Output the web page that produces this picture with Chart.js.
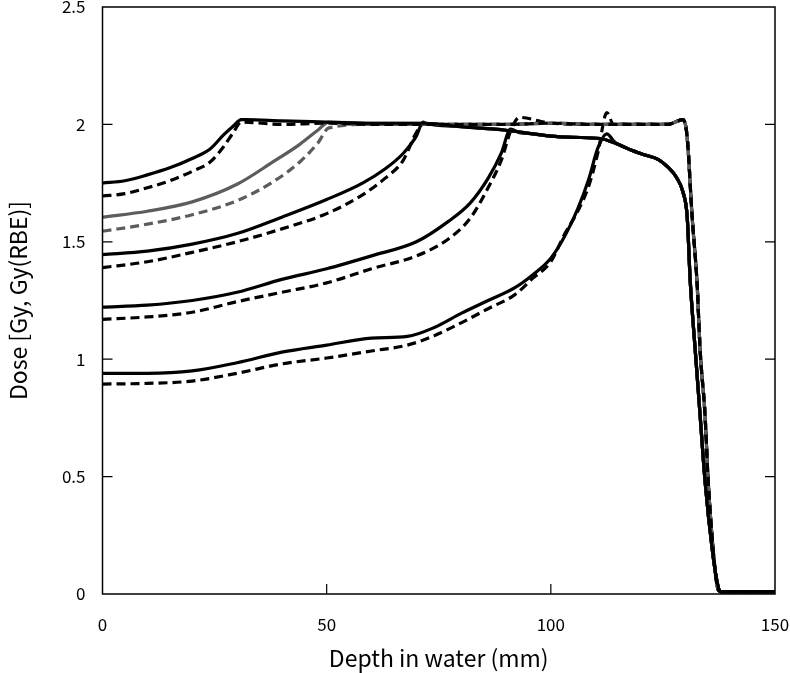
<!DOCTYPE html>
<html>
<head>
<meta charset="utf-8">
<script src="https://cdn.jsdelivr.net/npm/chart.js@4/dist/chart.umd.min.js"></script>
<style>
  body { margin: 0; background: #fff; }
  #c { display: block; }
</style>
</head>
<body>
<canvas id="c" width="790" height="673"></canvas>
<script>
// depth (mm) and dose, one set per SOBP width
const c1Depth  = [0, 5, 10, 15, 20, 24, 27, 29, 31];
const c1Solid  = [1.75, 1.76, 1.785, 1.815, 1.855, 1.895, 1.955, 1.99, 2.02];
const c1Dashed = [1.695, 1.705, 1.73, 1.76, 1.80, 1.84, 1.905, 1.96, 2.01];

const c2Depth  = [0, 10, 20, 30, 38, 44, 48, 50.5];
const c2Solid  = [1.605, 1.63, 1.67, 1.745, 1.84, 1.915, 1.975, 2.01];
const c2Dashed = [1.545, 1.575, 1.615, 1.675, 1.755, 1.84, 1.92, 1.985];

const c3Depth  = [0, 10, 20, 30, 40, 50, 58, 63, 67, 70, 71.5];
const c3Solid  = [1.445, 1.46, 1.49, 1.535, 1.605, 1.68, 1.75, 1.81, 1.875, 1.95, 2.01];
const c3Dashed = [1.39, 1.415, 1.455, 1.50, 1.555, 1.62, 1.70, 1.77, 1.845, 1.965, 2.0];

const c4Depth  = [0, 10, 20, 30, 40, 50, 60, 70, 77, 82, 86, 89, 91, 93];
const c4Solid  = [1.222, 1.23, 1.25, 1.285, 1.34, 1.385, 1.44, 1.50, 1.585, 1.665, 1.77, 1.88, 1.98, 1.965];
const c4Dashed = [1.17, 1.18, 1.20, 1.245, 1.285, 1.325, 1.385, 1.44, 1.51, 1.60, 1.73, 1.85, 1.97, 2.03];

const c5Depth  = [0, 10, 20, 30, 40, 50, 60, 68, 74, 80, 86, 92, 96, 100, 103, 106, 108.5, 110.5, 112.5, 114];
const c5Solid  = [0.94, 0.94, 0.95, 0.985, 1.03, 1.06, 1.09, 1.097, 1.135, 1.195, 1.25, 1.305, 1.36, 1.43, 1.52, 1.64, 1.77, 1.90, 1.96, 1.93];
const c5Dashed = [0.894, 0.897, 0.907, 0.94, 0.98, 1.005, 1.035, 1.06, 1.10, 1.155, 1.215, 1.275, 1.345, 1.415, 1.53, 1.63, 1.74, 1.88, 2.05, 2.0];

// shared plateau + distal fall-off
const solidTailDepth = [32, 40, 50, 60, 72, 80, 90, 96, 100, 105, 111, 115, 118, 121, 124, 126, 128, 129.5, 130.4, 131.1, 132.2, 133.3, 134.4, 136, 137.1, 137.8, 150];
const solidTailDose  = [2.02, 2.015, 2.01, 2.005, 2.005, 1.99, 1.975, 1.96, 1.95, 1.945, 1.94, 1.915, 1.89, 1.87, 1.85, 1.82, 1.775, 1.71, 1.61, 1.33, 1.04, 0.76, 0.48, 0.19, 0.05, 0.01, 0.01];
const dashTailDepth  = [31, 40, 50, 60, 70, 80, 90, 100, 110, 120, 126, 129.5, 130.2, 130.6, 131.5, 132.6, 133.3, 134.4, 135.1, 136.2, 137.3, 138, 150];
const dashTailDose   = [2.01, 2.0, 2.005, 2.0, 2.0, 2.0, 2.0, 2.005, 2.0, 2.0, 2.0, 2.02, 1.98, 1.9, 1.61, 1.33, 1.04, 0.76, 0.48, 0.19, 0.02, 0.01, 0.01];

const xTicks = [0, 50, 100, 150];
const yTicks = [0, 0.5, 1, 1.5, 2, 2.5];

function series(depth, dose, tailD, tailV) {
  const pts = depth.map((d, i) => ({ x: d, y: dose[i] }));
  const last = depth[depth.length - 1];
  tailD.forEach((d, i) => { if (d > last) pts.push({ x: d, y: tailV[i] }); });
  return pts;
}

const curves = [
  [c1Depth, c1Solid, c1Dashed, '#000000'],
  [c2Depth, c2Solid, c2Dashed, '#5c5c5c'],
  [c3Depth, c3Solid, c3Dashed, '#000000'],
  [c4Depth, c4Solid, c4Dashed, '#000000'],
  [c5Depth, c5Solid, c5Dashed, '#000000']
];

const datasets = [];
curves.forEach(([d, s, ds, col]) => {
  datasets.push({ data: series(d, s, solidTailDepth, solidTailDose), borderColor: col, borderWidth: 3.2 });
  datasets.push({ data: series(d, ds, dashTailDepth, dashTailDose), borderColor: col, borderWidth: 3.2, borderDash: [9, 5] });
});

// box with inward tick marks
const frame = {
  id: 'frame',
  afterDraw(chart) {
    const { ctx, chartArea: a, scales: { x, y } } = chart;
    ctx.save();
    ctx.strokeStyle = '#000';
    ctx.lineWidth = 1.5;
    ctx.strokeRect(a.left, a.top, a.right - a.left, a.bottom - a.top);
    ctx.lineWidth = 1.2;
    ctx.beginPath();
    yTicks.slice(1, -1).forEach(v => {
      const py = y.getPixelForValue(v);
      ctx.moveTo(a.left, py); ctx.lineTo(a.left + 10, py);
      ctx.moveTo(a.right, py); ctx.lineTo(a.right - 10, py);
    });
    xTicks.slice(1, -1).forEach(v => {
      const px = x.getPixelForValue(v);
      ctx.moveTo(px, a.bottom); ctx.lineTo(px, a.bottom - 10);
    });
    ctx.stroke();
    ctx.restore();
  }
};

const font = "'Noto Sans CJK JP', 'Noto Sans', sans-serif";

new Chart(document.getElementById('c'), {
  type: 'line',
  data: { datasets },
  options: {
    responsive: false,
    animation: false,
    devicePixelRatio: 1,
    layout: { padding: { top: 7, right: 15, left: 0, bottom: 0 } },
    elements: { point: { radius: 0 }, line: { cubicInterpolationMode: 'monotone', fill: false } },
    plugins: { legend: { display: false }, tooltip: { enabled: false } },
    scales: {
      x: {
        type: 'linear', min: 0, max: 150,
        afterFit: s => { s.height = 79; s.paddingLeft = 0; s.paddingRight = 0; },
        afterBuildTicks: s => { s.ticks = xTicks.map(v => ({ value: v })); },
        grid: { display: false, drawTicks: false },
        border: { display: false },
        ticks: { color: '#000', padding: 20, maxRotation: 0, callback: v => String(v), font: { family: font, size: 17 } },
        title: { display: true, text: 'Depth in water (mm)', color: '#000', padding: { top: 0, bottom: 1 }, font: { family: font, size: 23 } }
      },
      y: {
        type: 'linear', min: 0, max: 2.5,
        afterFit: s => { s.width = 102.5; s.paddingTop = 0; s.paddingBottom = 0; },
        afterBuildTicks: s => { s.ticks = yTicks.map(v => ({ value: v })); },
        grid: { display: false, drawTicks: false },
        border: { display: false },
        ticks: { color: '#000', padding: 17, callback: v => String(v), font: { family: font, size: 17 } },
        title: { display: true, text: 'Dose [Gy, Gy(RBE)]', color: '#000', padding: { top: 4, bottom: 0 }, font: { family: font, size: 23 } }
      }
    }
  },
  plugins: [frame]
});
</script>
</body>
</html>
